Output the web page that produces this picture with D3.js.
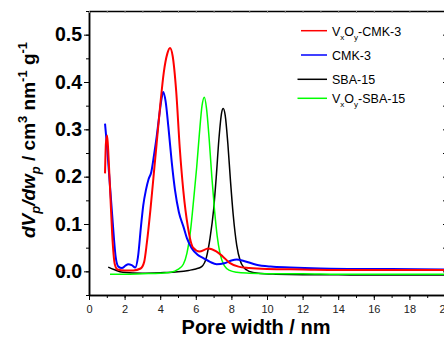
<!DOCTYPE html>
<html>
<head>
<meta charset="utf-8">
<script src="https://cdn.jsdelivr.net/npm/d3@7"></script>
<style>
  body { margin: 0; background: #fff; }
  svg { display: block; font-family: Arial, "Liberation Sans", sans-serif; }
</style>
</head>
<body>
<div id="vis"></div>
<script>
// series data (x = pore width / nm, y = dVp/dwp)
const redX = [0.9, 0.95, 1.02, 1.1, 1.2, 1.3, 1.45, 1.6, 2.0, 2.5, 2.9, 3.1, 3.25, 3.45, 3.65, 3.8, 4.0, 4.2, 4.4, 4.55, 4.7, 4.9, 5.1, 5.3, 5.55, 5.85, 6.2, 6.7, 7.15, 7.5, 7.9, 8.4, 9.0, 10, 12, 14, 16, 18, 20];
const redY = [0.207, 0.27, 0.287, 0.24, 0.16, 0.08, 0.015, 0.004, 0.002, 0.002, 0.006, 0.02, 0.06, 0.13, 0.21, 0.27, 0.35, 0.42, 0.46, 0.472, 0.455, 0.38, 0.26, 0.17, 0.095, 0.05, 0.042, 0.048, 0.042, 0.032, 0.018, 0.01, 0.007, 0.005, 0.004, 0.003, 0.003, 0.003, 0.003];

const blueX = [0.9, 1.0, 1.1, 1.2, 1.3, 1.4, 1.5, 1.65, 1.85, 2.05, 2.2, 2.4, 2.6, 2.75, 2.92, 3.05, 3.2, 3.35, 3.5, 3.65, 3.8, 3.95, 4.1, 4.17, 4.3, 4.46, 4.65, 4.83, 5.05, 5.3, 5.5, 5.77, 6.1, 6.42, 6.8, 7.17, 7.6, 8.0, 8.3, 8.7, 9.4, 10.2, 11.3, 13, 15, 17, 20];
const blueY = [0.312, 0.27, 0.22, 0.17, 0.12, 0.07, 0.03, 0.01, 0.007, 0.012, 0.015, 0.013, 0.008, 0.03, 0.095, 0.14, 0.172, 0.195, 0.21, 0.245, 0.284, 0.33, 0.37, 0.379, 0.36, 0.305, 0.23, 0.172, 0.125, 0.095, 0.07, 0.049, 0.035, 0.028, 0.02, 0.015, 0.017, 0.023, 0.025, 0.022, 0.014, 0.01, 0.008, 0.006, 0.005, 0.005, 0.004];

const blackX = [1.08, 1.4, 1.9, 3, 4, 5, 5.6, 6.0, 6.33, 6.6, 6.8, 7.0, 7.15, 7.3, 7.45, 7.54, 7.65, 7.8, 7.95, 8.1, 8.3, 8.5, 8.7, 9.0, 9.5, 10.5, 12, 14, 16, 18, 20];
const blackY = [0.009, 0.004, -0.002, -0.004, -0.003, -0.001, 0.002, 0.005, 0.01, 0.03, 0.07, 0.13, 0.2, 0.28, 0.335, 0.344, 0.33, 0.27, 0.19, 0.12, 0.055, 0.022, 0.008, 0.0, -0.004, -0.006, -0.007, -0.007, -0.008, -0.008, -0.008];

const greenX = [1.18, 2, 3, 4, 4.6, 5.0, 5.3, 5.5, 5.7, 5.9, 6.05, 6.2, 6.35, 6.48, 6.6, 6.75, 6.9, 7.05, 7.2, 7.36, 7.6, 7.9, 8.3, 9, 10, 12, 14, 16, 18, 20];
const greenY = [-0.006, -0.006, -0.005, -0.004, -0.002, 0.004, 0.015, 0.038, 0.085, 0.16, 0.22, 0.29, 0.35, 0.368, 0.345, 0.28, 0.2, 0.13, 0.075, 0.038, 0.012, 0.002, -0.002, -0.004, -0.005, -0.005, -0.006, -0.006, -0.006, -0.006];

const xTicks = [0, 2, 4, 6, 8, 10, 12, 14, 16, 18, 20];
const yTicks = [0.0, 0.1, 0.2, 0.3, 0.4, 0.5];

const series = [
    {name: "VxOy-CMK-3", xs: redX, ys: redY, color: "#ff0000", w: 2},
    {name: "CMK-3", xs: blueX, ys: blueY, color: "#0000ff", w: 2},
    {name: "SBA-15", xs: blackX, ys: blackY, color: "#000000", w: 1.5},
    {name: "VxOy-SBA-15", xs: greenX, ys: greenY, color: "#00ff00", w: 1.5}
];

const W = 444, H = 338;
const margin = {left: 89, top: 11, right: -1, bottom: 43};

const svg = d3.select("#vis").append("svg")
    .attr("width", W)
    .attr("height", H);

const x = d3.scaleLinear().domain([0, 20]).range([margin.left, W - margin.right]);
const y = d3.scaleLinear().domain([-0.05, 0.55]).range([H - margin.bottom, margin.top]);

// clip to plot area
svg.append("clipPath").attr("id", "clip")
  .append("rect")
    .attr("x", x(0)).attr("y", y(0.55))
    .attr("width", x(20) - x(0)).attr("height", y(-0.05) - y(0.55));

// curves
const line = d3.line()
    .x(d => x(d[0]))
    .y(d => y(d[1]))
    .curve(d3.curveMonotoneX);

const plot = svg.append("g").attr("clip-path", "url(#clip)");
// draw order: black, green, blue, red
[2, 3, 1, 0].forEach(i => {
    const s = series[i];
    plot.append("path")
        .datum(s.xs.map((v, j) => [v, s.ys[j]]))
        .attr("fill", "none")
        .attr("stroke", s.color)
        .attr("stroke-width", s.w)
        .attr("stroke-linejoin", "round")
        .attr("d", line);
});

// minor ticks
const xMinor = d3.range(0, 21, 1);
const yMinor = d3.range(-0.05, 0.56, 0.05);

const xAxisG = svg.append("g")
    .attr("transform", "translate(0," + y(-0.05) + ")");
xAxisG.call(d3.axisBottom(x).tickValues(xMinor).tickSize(3).tickSizeOuter(0).tickFormat(""));
xAxisG.append("g").call(d3.axisBottom(x).tickValues(xTicks).tickSize(5).tickSizeOuter(0).tickFormat(d3.format("d")));
xAxisG.selectAll(".domain").attr("stroke-width", 1.5);
xAxisG.selectAll("line").attr("stroke-width", 1);
xAxisG.selectAll("text")
    .attr("font-size", 11)
    .attr("font-family", "Arial, 'Liberation Sans', sans-serif")
    .attr("fill", "#222")
    .attr("dy", "0.9em");

const yAxisG = svg.append("g")
    .attr("transform", "translate(" + x(0) + ",0)");
yAxisG.call(d3.axisLeft(y).tickValues(yMinor).tickSize(3).tickSizeOuter(0).tickFormat(""));
yAxisG.append("g").call(d3.axisLeft(y).tickValues(yTicks).tickSize(5).tickSizeOuter(0).tickFormat(d3.format(".1f")));
yAxisG.selectAll(".domain").attr("stroke-width", 1.5);
yAxisG.selectAll("line").attr("stroke-width", 1);
yAxisG.selectAll("text")
    .attr("font-size", 19.5)
    .attr("font-weight", "bold")
    .attr("font-family", "Arial, 'Liberation Sans', sans-serif")
    .attr("fill", "#000")
    .attr("x", -7);

// top and right frame
const topG = svg.append("g").attr("transform", "translate(0," + y(0.55) + ")");
topG.call(d3.axisBottom(x).tickValues(xMinor).tickSize(2).tickSizeOuter(0).tickFormat(""));
topG.selectAll(".domain").attr("stroke-width", 1.5);
topG.selectAll("line").attr("stroke", "#888");
svg.append("g").attr("transform", "translate(" + x(20) + ",0)")
    .call(d3.axisRight(y).tickValues(yMinor).tickSize(-2).tickSizeOuter(0).tickFormat(""))
    .selectAll(".domain").attr("stroke-width", 1.5);

// axis titles
svg.append("text")
    .attr("x", 256).attr("y", 334)
    .attr("text-anchor", "middle")
    .attr("font-size", 20)
    .attr("font-weight", "bold")
    .text("Pore width / nm");

const yl = svg.append("text")
    .attr("transform", "translate(35,140) rotate(-90)")
    .attr("text-anchor", "middle")
    .attr("font-size", 19)
    .attr("font-weight", "bold");
yl.append("tspan").attr("font-style", "italic").text("dV");
yl.append("tspan").attr("font-style", "italic").attr("font-size", 13).attr("dy", 5).text("p");
yl.append("tspan").attr("font-style", "italic").attr("dy", -5).text("/dw");
yl.append("tspan").attr("font-style", "italic").attr("font-size", 13).attr("dy", 5).text("p");
yl.append("tspan").attr("dy", -5).text(" / cm");
yl.append("tspan").attr("font-size", 13).attr("dy", -8).text("3");
yl.append("tspan").attr("dy", 8).text(" nm");
yl.append("tspan").attr("font-size", 13).attr("dy", -8).text("-1");
yl.append("tspan").attr("dy", 8).text(" g");
yl.append("tspan").attr("font-size", 13).attr("dy", -8).text("-1");

// legend
const legendY = [30.7, 55, 79.3, 98.3];
const legendX0 = [301, 301, 297.5, 297.5];
const legend = svg.append("g");
series.forEach((s, i) => {
    legend.append("line")
        .attr("x1", legendX0[i]).attr("x2", 327)
        .attr("y1", legendY[i]).attr("y2", legendY[i])
        .attr("stroke", s.color)
        .attr("stroke-width", 1.5);
    const t = legend.append("text")
        .attr("x", 332).attr("y", legendY[i] + 5)
        .attr("font-size", 12.5)
        .attr("fill", "#000");
    if (s.name.startsWith("VxOy")) {
        t.append("tspan").text("V");
        t.append("tspan").attr("font-size", 8).attr("dy", 4).text("x");
        t.append("tspan").attr("dy", -4).text("O");
        t.append("tspan").attr("font-size", 8).attr("dy", 4).text("y");
        t.append("tspan").attr("dy", -4).text(s.name.slice(4));
    } else {
        t.text(s.name);
    }
});
</script>
</body>
</html>
